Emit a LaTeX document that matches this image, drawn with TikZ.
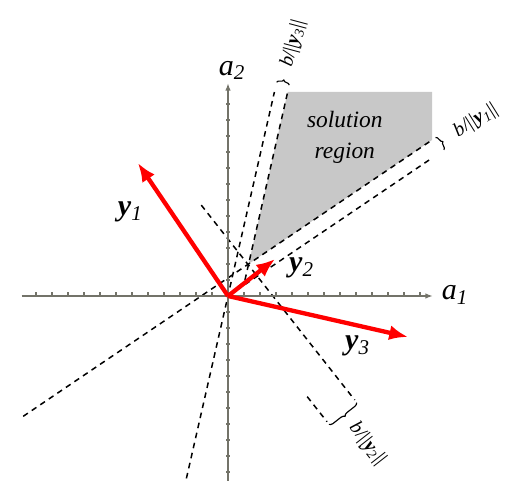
\documentclass[tikz,border=0pt]{standalone}
\usepackage{fontspec}
\setmainfont{Liberation Serif}
\usetikzlibrary{arrows.meta,decorations.pathreplacing}
\definecolor{axisgray}{RGB}{115,115,105}
\definecolor{zonegray}{RGB}{200,200,200}

\begin{document}
\begin{tikzpicture}[x=0.3cm,y=0.3cm,
    axe/.style={draw=axisgray, line width=1pt},
    vec/.style={draw=red, line width=2.3pt, -{Latex[length=10pt,width=8pt]}},
    limite/.style={line width=0.8pt, dash pattern=on 3pt off 2.5pt},
    accol/.style={decorate, decoration={brace, amplitude=2pt}, line width=0.6pt},
    marge/.style={font=\fontsize{10.5}{12}\selectfont, anchor=west, inner sep=1pt},
    nom/.style={font=\fontsize{16}{17}\selectfont}]
    \useasboundingbox (-14.25,-11.56) rectangle (18.375,18.5);

    % Region solution
    \fill[zonegray] (1.29,2.0) -- (3.73,12.75) -- (12.75,12.75) -- (12.75,9.75) -- cycle;
    \node[font=\fontsize{12.5}{16.5}\selectfont\itshape, align=center] (zone) at (7.3,9.9) {solution\\region};

    % Points des droites
    \coordinate (z1a) at (0,0);
    \coordinate (z1b) at (12.6,8.52);
    \coordinate (m1a) at (-12.8,-7.52);
    \coordinate (m1b) at (12.75,9.75);
    \coordinate (z2a) at (4.95,-6.29);
    \coordinate (z2b) at (6.19,-7.86);
    \coordinate (m2a) at (-1.67,5.68);
    \coordinate (m2b) at (7.92,-6.50);
    \coordinate (z3a) at (-2.6,-11.4);
    \coordinate (z3b) at (2.9,12.75);
    \coordinate (m3a) at (1.06,1.0);
    \coordinate (m3b) at (3.73,12.75);

    % Droites
    \draw[limite] (z1a) -- (z1b);
    \draw[limite] (m1a) -- (m1b);
    \draw[limite] (z2a) -- (z2b);
    \draw[limite] (m2a) -- (m2b);
    \draw[limite] (z3a) -- (z3b);
    \draw[limite] (m3a) -- (m3b);

    % Marges
    \coordinate (b1a) at (12.97,9.91);
    \coordinate (b1b) at (13.5,9.13);
    \coordinate (b2a) at (8.04,-6.66);
    \coordinate (b2b) at (6.31,-8.02);
    \coordinate (b3a) at (3.04,13.36);
    \coordinate (b3b) at (3.83,13.18);
    \draw[accol] (b1a) -- (b1b);
    \draw[accol] (b2a) -- (b2b);
    \draw[accol] (b3a) -- (b3b);
    \node[marge, rotate=32] (lb1) at (14.1,10.1) {\textit{b}/||\textbf{\textit{y}}\textsubscript{\textit{1}}||};
    \node[marge, rotate=-52] (lb2) at (7.7,-7.95) {\textit{b}/||\textbf{\textit{y}}\textsubscript{\textit{2}}||};
    \node[marge, rotate=75] (lb3) at (3.66,14.2) {\textit{b}/||\textbf{\textit{y}}\textsubscript{\textit{3}}||};

    % Axes
    \coordinate (O) at (0,0);
    \coordinate (xg) at (-12.9,0);
    \coordinate (xd) at (12.8,0);
    \coordinate (yb) at (0,-11.6);
    \coordinate (yh) at (0,13.3);
    \foreach \i in {-12,...,-1,1,2,...,12}
        \draw[axe, line width=0.7pt] (\i,0) -- (\i,0.25);
    \foreach \i in {-11,...,-1,1,2,...,12}
        \draw[axe, line width=0.7pt] (-0.12,\i) -- (0.12,\i);
    \draw[axe, -{Latex[length=4pt,width=3pt]}] (xg) -- (xd);
    \draw[axe, -{Latex[length=4pt,width=3pt]}] (yb) -- (yh);
    \node[nom] (a1) at (14.2,0.05) {\textit{a}\textsubscript{\textit{1}}};
    \node[nom] (a2) at (0.25,14.1) {\textit{a}\textsubscript{\textit{2}}};

    % Vecteurs
    \coordinate (y1) at (-5.63,8.31);
    \coordinate (y2) at (2.94,2.31);
    \coordinate (y3) at (11.25,-2.56);
    \draw[vec] (O) -- (y1);
    \draw[vec] (O) -- (y2);
    \draw[vec] (O) -- (y3);
    \node[nom] (ly1) at (-6.1,5.25) {\textbf{\textit{y}}\textsubscript{\textit{1}}};
    \node[nom] (ly2) at (4.6,1.75) {\textbf{\textit{y}}\textsubscript{\textit{2}}};
    \node[nom] (ly3) at (8.1,-3.1) {\textbf{\textit{y}}\textsubscript{\textit{3}}};
\end{tikzpicture}
\end{document}
